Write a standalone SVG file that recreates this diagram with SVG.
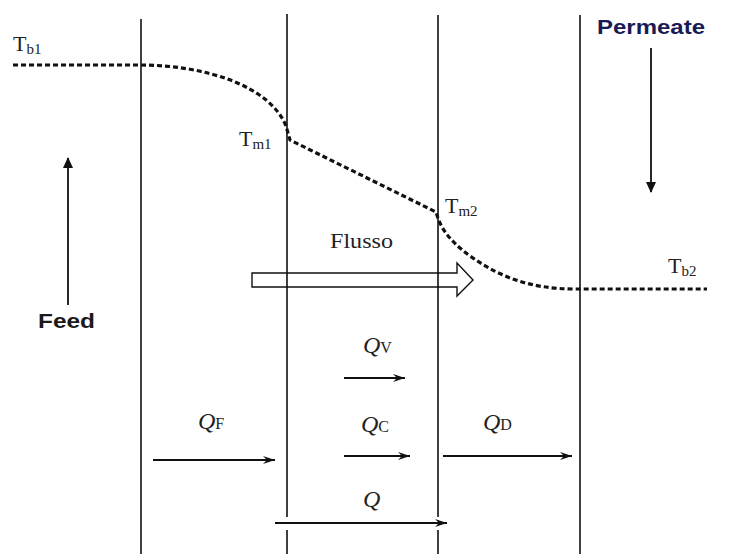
<svg xmlns="http://www.w3.org/2000/svg" width="733" height="554" viewBox="0 0 733 554">
<defs>
<style>
.wall{stroke:#111;stroke-width:1.6;fill:none}
.curve{stroke:#111;stroke-width:3.2;fill:none;stroke-dasharray:5 3}
.ar{stroke:#111;stroke-width:1.8;fill:none}
.sym{font-family:"Liberation Serif",serif;font-size:22px;fill:#222}
.sub{font-size:15px}
.q{font-family:"Liberation Serif",serif;font-style:italic;font-size:24px;fill:#222}
.qs{font-style:normal;font-size:16px}
.bold{font-family:"Liberation Sans",Arial,sans-serif;font-weight:bold;font-size:20px}
</style>
<marker id="barb" markerWidth="14" markerHeight="10" refX="12" refY="5" orient="auto" markerUnits="userSpaceOnUse">
<path d="M0,9 L4,5 L0,1 L12,5 Z" fill="#111"/>
</marker>
<marker id="tri" markerWidth="12" markerHeight="14" refX="10" refY="6" orient="auto" markerUnits="userSpaceOnUse">
<path d="M0,1 L11,6 L0,11 Z" fill="#111"/>
</marker>
</defs>
<rect width="733" height="554" fill="#fff"/>
<g id="walls">
<line class="wall" x1="141" y1="19" x2="141" y2="554"/>
<path class="wall" d="M287,14 V517 M287,530 V554"/>
<path class="wall" d="M438,15 V517 M438,530 V554"/>
<line class="wall" x1="580" y1="15" x2="580" y2="554"/>
</g>
<g id="temperature-profile">
<path class="curve" d="M13,65 H140 C205,65 270,86 286,126 L290,140 L436,212 C440,226 446,238 470,256 C500,277 530,289 575,289 H707"/>
<text class="sym" x="13" y="51">T<tspan class="sub" dy="3">b1</tspan></text>
<text class="sym" x="239" y="146">T<tspan class="sub" dy="3">m1</tspan></text>
<text class="sym" x="445" y="213">T<tspan class="sub" dy="3">m2</tspan></text>
<text class="sym" x="668" y="273">T<tspan class="sub" dy="3">b2</tspan></text>
</g>
<g id="flusso">
<path d="M252,273 H457 V263 L473,280 L457,296 V287 H252 Z" fill="none" stroke="#111" stroke-width="1.4"/>
<text class="sym" x="330" y="248" textLength="63" lengthAdjust="spacingAndGlyphs">Flusso</text>
</g>
<g id="feed">
<line class="ar" x1="68" y1="305" x2="68" y2="158" marker-end="url(#tri)"/>
<text class="bold" x="38" y="328" fill="#1a1a1a" textLength="57" lengthAdjust="spacingAndGlyphs">Feed</text>
</g>
<g id="permeate">
<line class="ar" x1="651" y1="48" x2="651" y2="192" marker-end="url(#tri)"/>
<text class="bold" x="597" y="34" fill="#1a1a55" textLength="108" lengthAdjust="spacingAndGlyphs">Permeate</text>
</g>
<g id="flows">
<line class="ar" x1="344" y1="378" x2="405" y2="378" marker-end="url(#barb)"/>
<line class="ar" x1="344" y1="456" x2="410" y2="456" marker-end="url(#barb)"/>
<line class="ar" x1="153" y1="460" x2="275" y2="460" marker-end="url(#barb)"/>
<line class="ar" x1="443" y1="456" x2="572" y2="456" marker-end="url(#barb)"/>
<line class="ar" x1="275" y1="523" x2="447" y2="523" marker-end="url(#barb)"/>
<text class="q" x="363" y="353">Q<tspan class="qs">V</tspan></text>
<text class="q" x="361" y="432">Q<tspan class="qs">C</tspan></text>
<text class="q" x="198" y="429">Q<tspan class="qs">F</tspan></text>
<text class="q" x="483" y="430">Q<tspan class="qs">D</tspan></text>
<text class="q" x="363" y="507">Q</text>
</g>
</svg>
